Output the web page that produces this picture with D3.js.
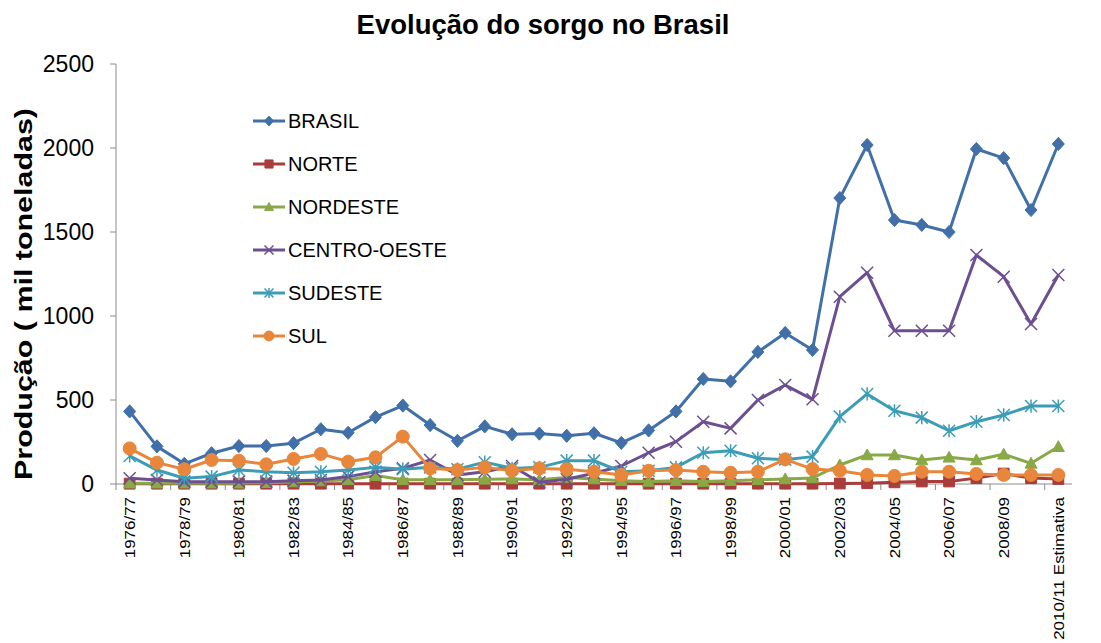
<!DOCTYPE html>
<meta charset="utf-8">
<style>
  body { margin: 0; background: #fff; }
  text { font-family: "Liberation Sans", Arial, sans-serif; }
</style>
<script src="https://d3js.org/d3.v7.min.js"></script>
<div id="chart"></div>
<script>
// categories (safras)
var safras = ["1976/77","1977/78","1978/79","1979/80","1980/81","1981/82","1982/83","1983/84",
  "1984/85","1985/86","1986/87","1987/88","1988/89","1989/90","1990/91","1991/92","1992/93",
  "1993/94","1994/95","1995/96","1996/97","1997/98","1998/99","1999/00","2000/01","2001/02",
  "2002/03","2003/04","2004/05","2005/06","2006/07","2007/08","2008/09","2009/10","2010/11 Estimativa"];

// series, mil toneladas
var brasil = [432,224,120,183,226,226,243,326,305,398,467,351,257,343,296,300,287,302,245,319,
  432,625,611,786,899,798,1702,2018,1571,1542,1500,1994,1940,1631,2024];
var norte = [2,2,2,2,2,2,2,2,2,2,2,2,2,2,2,2,2,2,2,2,2,2,2,2,2,2,
  3,5,10,15,15,35,62,35,30];
var nordeste = [5,5,5,5,5,8,12,18,25,50,25,25,25,28,30,25,38,30,20,15,
  20,15,20,25,30,36,113,173,173,143,159,143,177,123,222];
var centroOeste = [34,24,14,14,14,14,20,24,44,73,93,143,54,73,107,10,28,64,107,186,
  252,371,331,500,589,504,1115,1258,912,912,912,1363,1234,952,1244];
var sudeste = [167,83,34,44,83,73,67,73,83,99,88,99,88,130,93,99,139,139,73,79,
  99,186,198,153,145,163,401,536,436,395,317,371,411,464,464];
var sul = [212,127,88,143,139,117,149,179,133,159,282,93,83,99,79,93,88,73,54,79,
  83,73,67,73,147,89,79,54,48,73,73,60,54,54,54];

var yTicks = [0, 500, 1000, 1500, 2000, 2500];

var series = [
  {name: "BRASIL", values: brasil, color: "#4170a9", marker: "diamond"},
  {name: "NORTE", values: norte, color: "#a83d3b", marker: "square"},
  {name: "NORDESTE", values: nordeste, color: "#88a945", marker: "triangle"},
  {name: "CENTRO-OESTE", values: centroOeste, color: "#6c4f91", marker: "x"},
  {name: "SUDESTE", values: sudeste, color: "#3c9db6", marker: "star"},
  {name: "SUL", values: sul, color: "#e8873b", marker: "circle"}
];

var W = 1101, H = 643;
var svg = d3.select("#chart").append("svg")
  .attr("width", W).attr("height", H);

var x = d3.scaleBand().domain(safras).range([116, 1072]).padding(0);
var cx = function(c) { return x(c) + x.bandwidth() / 2; };
var y = d3.scaleLinear().domain([0, 2500]).range([484, 64]);

// marker shapes
function markerPath(type, r) {
  var p = d3.path();
  if (type == "diamond") {
    p.moveTo(0, -r * 1.1); p.lineTo(r, 0); p.lineTo(0, r * 1.1); p.lineTo(-r, 0); p.closePath();
  } else if (type == "square") {
    p.rect(-r * 0.9, -r * 0.9, r * 1.8, r * 1.8);
  } else if (type == "triangle") {
    p.moveTo(0, -r); p.lineTo(r, r * 0.8); p.lineTo(-r, r * 0.8); p.closePath();
  } else if (type == "x") {
    p.moveTo(-r, -r); p.lineTo(r, r); p.moveTo(r, -r); p.lineTo(-r, r);
  } else if (type == "star") {
    p.moveTo(-r, -r); p.lineTo(r, r); p.moveTo(r, -r); p.lineTo(-r, r);
    p.moveTo(0, -r * 1.1); p.lineTo(0, r * 1.1);
  } else {
    p.arc(0, 0, r, 0, 2 * Math.PI);
  }
  return p.toString();
}
function drawMarker(g, s, r) {
  var open = (s.marker == "x" || s.marker == "star");
  g.append("path")
    .attr("d", markerPath(s.marker, r))
    .attr("fill", open ? "none" : s.color)
    .attr("stroke", s.color)
    .attr("stroke-width", open ? 1.5 : 1);
}

// axes
svg.append("line").attr("x1", 116).attr("x2", 116).attr("y1", 64).attr("y2", 484)
  .attr("stroke", "#8c8c8c").attr("stroke-width", 1);
svg.append("line").attr("x1", 116).attr("x2", 1072).attr("y1", 484).attr("y2", 484)
  .attr("stroke", "#8c8c8c").attr("stroke-width", 1);

svg.selectAll(".ytick").data(yTicks).enter().append("line")
  .attr("x1", 110).attr("x2", 116)
  .attr("y1", function(d) { return y(d); }).attr("y2", function(d) { return y(d); })
  .attr("stroke", "#8c8c8c");
svg.selectAll(".ylab").data(yTicks).enter().append("text")
  .attr("x", 94).attr("y", function(d) { return y(d); })
  .attr("dy", "0.35em").attr("text-anchor", "end")
  .style("font-size", "23px").style("fill", "#000")
  .text(function(d) { return d; });

// x ticks every two categories
var xTickIdx = d3.range(0, safras.length + 1, 2);
svg.selectAll(".xtick").data(xTickIdx).enter().append("line")
  .attr("x1", function(i) { return 116 + i * x.bandwidth(); })
  .attr("x2", function(i) { return 116 + i * x.bandwidth(); })
  .attr("y1", 484).attr("y2", 490)
  .attr("stroke", "#8c8c8c");

svg.selectAll(".xlab").data(safras.filter(function(d, i) { return i % 2 == 0; }))
  .enter().append("text")
  .attr("transform", function(d) { return "translate(" + cx(d) + ",497) rotate(-90) scale(1.13,1)"; })
  .attr("dy", "0.35em").attr("text-anchor", "end")
  .style("font-size", "15px").style("fill", "#000")
  .text(function(d) { return d; });

// lines + markers
var line = d3.line()
  .x(function(d, i) { return cx(safras[i]); })
  .y(function(d) { return y(d); });

series.forEach(function(s) {
  var g = svg.append("g");
  g.append("path").datum(s.values)
    .attr("d", line)
    .attr("fill", "none")
    .attr("stroke", s.color)
    .attr("stroke-width", 3)
    .attr("stroke-linejoin", "round");
  s.values.forEach(function(v, i) {
    var m = g.append("g").attr("transform", "translate(" + cx(safras[i]) + "," + y(v) + ")");
    drawMarker(m, s, s.marker == "circle" ? 6.5 : 6);
  });
});

// legend
var leg = svg.append("g");
series.forEach(function(s, i) {
  var yy = 121 + i * 43;
  leg.append("line").attr("x1", 253).attr("x2", 285).attr("y1", yy).attr("y2", yy)
    .attr("stroke", s.color).attr("stroke-width", 3);
  var m = leg.append("g").attr("transform", "translate(269," + yy + ")");
  drawMarker(m, s, s.marker == "circle" ? 5 : 4.5);
  leg.append("text").attr("x", 288).attr("y", yy).attr("dy", "0.36em")
    .style("font-size", "20px").style("fill", "#000")
    .text(s.name);
});

// title
svg.append("text").attr("x", 543).attr("y", 34).attr("text-anchor", "middle")
  .style("font-size", "27.5px").style("font-weight", "bold").style("fill", "#000")
  .text("Evolução do sorgo no Brasil");

// y axis title
svg.append("text")
  .attr("transform", "translate(32,294) rotate(-90)")
  .attr("text-anchor", "middle")
  .attr("textLength", 372).attr("lengthAdjust", "spacingAndGlyphs")
  .style("font-size", "23px").style("font-weight", "bold").style("fill", "#000")
  .text("Produção ( mil toneladas)");
</script>
